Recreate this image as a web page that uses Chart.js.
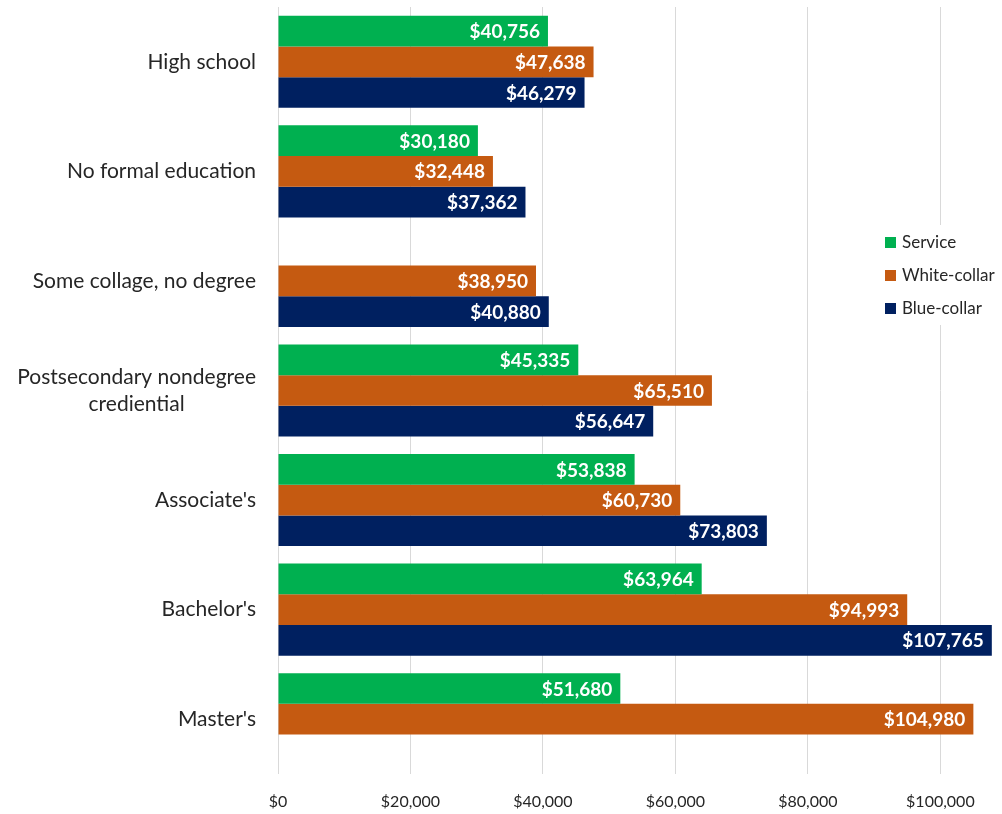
<!DOCTYPE html>
<html>
<head>
<meta charset="utf-8">
<script src="https://cdn.jsdelivr.net/npm/chart.js@4"></script>
<style>
  html, body { margin: 0; padding: 0; background: #fff; }
  #wrap { width: 1002px; height: 814px; }
</style>
</head>
<body>
<div id="wrap"><canvas id="grafico" width="1002" height="814"></canvas></div>
<script>
// Datos
const categorias = [
    'High school',
    'No formal education',
    'Some collage, no degree',
    ['Postsecondary nondegree', 'crediential'],
    "Associate's",
    "Bachelor's",
    "Master's"
];
const servicio = [40756, 30180, null, 45335, 53838, 63964, 51680];
const cuelloBlanco = [47638, 32448, 38950, 65510, 60730, 94993, 104980];
const cuelloAzul = [46279, 37362, 40880, 56647, 73803, 107765, null];
const ticksX = [0, 20000, 40000, 60000, 80000, 100000];

const colores = {
    servicio: '#00B050',
    blanco: '#C55A11',
    azul: '#002060'
};

const fuente = 'Lato, "Open Sans", sans-serif';

function formatoDolar(v) {
    return '$' + Math.round(v).toLocaleString('en-US');
}

// Etiquetas blancas al final de cada barra
const etiquetasBarras = {
    id: 'etiquetasBarras',
    afterDatasetsDraw(chart) {
        const ctx = chart.ctx;
        ctx.save();
        ctx.font = 'bold 19px ' + fuente;
        ctx.fillStyle = '#ffffff';
        ctx.textAlign = 'right';
        ctx.textBaseline = 'middle';
        chart.data.datasets.forEach((ds, i) => {
            const meta = chart.getDatasetMeta(i);
            meta.data.forEach((bar, j) => {
                const v = ds.data[j];
                if (v === null || v === undefined) return;
                ctx.fillText(formatoDolar(v), bar.x - 8, bar.y + 1);
            });
        });
        ctx.restore();
    }
};

// Etiquetas de categoría (las de dos líneas van centradas entre sí)
const etiquetasCategorias = {
    id: 'etiquetasCategorias',
    afterDraw(chart) {
        const ctx = chart.ctx;
        const escala = chart.scales.y;
        const derecha = 256, altoLinea = 27;
        ctx.save();
        ctx.font = '21px ' + fuente;
        ctx.fillStyle = '#262626';
        ctx.textBaseline = 'middle';
        ctx.textAlign = 'center';
        categorias.forEach((cat, i) => {
            const lineas = Array.isArray(cat) ? cat : [cat];
            const ancho = Math.max(...lineas.map(l => ctx.measureText(l).width));
            const cx = derecha - ancho / 2;
            const yc = escala.getPixelForValue(i);
            lineas.forEach((l, k) => {
                const y = yc + (k - (lineas.length - 1) / 2) * altoLinea;
                ctx.fillText(l, cx, y);
            });
        });
        ctx.restore();
    }
};

// Leyenda vertical dibujada sobre el área del gráfico
const leyendaDerecha = {
    id: 'leyendaDerecha',
    afterDraw(chart) {
        const ctx = chart.ctx;
        const x = 885, y0 = 243, paso = 33;
        ctx.save();
        ctx.fillStyle = '#ffffff';
        ctx.fillRect(878, 225, 122, 100);
        ctx.font = '17px ' + fuente;
        ctx.textBaseline = 'middle';
        ctx.textAlign = 'left';
        chart.data.datasets.forEach((ds, i) => {
            const y = y0 + i * paso;
            ctx.fillStyle = ds.backgroundColor;
            ctx.fillRect(x, y - 6, 11, 11);
            ctx.fillStyle = '#262626';
            ctx.fillText(ds.label, x + 17, y);
        });
        ctx.restore();
    }
};

new Chart(document.getElementById('grafico'), {
    type: 'bar',
    data: {
        labels: categorias,
        datasets: [
            { label: 'Service', data: servicio, backgroundColor: colores.servicio },
            { label: 'White-collar', data: cuelloBlanco, backgroundColor: colores.blanco },
            { label: 'Blue-collar', data: cuelloAzul, backgroundColor: colores.azul }
        ]
    },
    options: {
        indexAxis: 'y',
        responsive: false,
        animation: false,
        layout: { padding: { top: 7, right: 2, bottom: 0, left: 0 } },
        datasets: {
            bar: { categoryPercentage: 0.84, barPercentage: 1.0 }
        },
        plugins: {
            legend: { display: false },
            tooltip: { enabled: false }
        },
        scales: {
            x: {
                min: 0,
                max: 109000,
                afterBuildTicks: (axis) => {
                    axis.ticks = ticksX.map(v => ({ value: v }));
                },
                grid: { color: '#d9d9d9', lineWidth: 1, drawTicks: false },
                border: { display: false },
                ticks: {
                    padding: 18,
                    color: '#262626',
                    font: { family: fuente, size: 16 },
                    callback: (v) => formatoDolar(v)
                },
                afterFit: (axis) => {
                    axis.height = 40;
                    axis.paddingLeft = 0;
                    axis.paddingRight = 0;
                }
            },
            y: {
                grid: { display: false },
                border: { display: false },
                ticks: { display: false },
                afterFit: (axis) => {
                    axis.width = 278;
                    axis.paddingTop = 0;
                    axis.paddingBottom = 0;
                }
            }
        }
    },
    plugins: [etiquetasBarras, etiquetasCategorias, leyendaDerecha]
});
</script>
</body>
</html>
